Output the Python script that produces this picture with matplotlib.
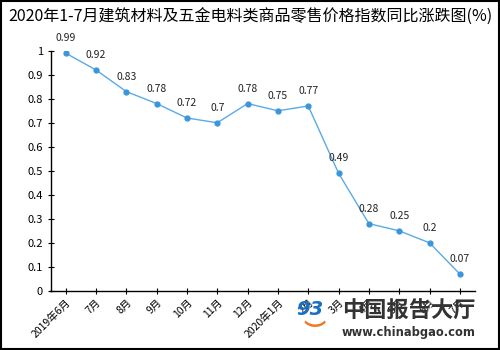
import matplotlib.pyplot as plt
from matplotlib.patches import Rectangle

plt.rcParams['font.family'] = ['Noto Sans CJK SC', 'DejaVu Sans']

months = ['2019年6月', '7月', '8月', '9月', '10月', '11月', '12月',
          '2020年1月', '2月', '3月', '4月', '5月', '6月', '7月']
values = [0.99, 0.92, 0.83, 0.78, 0.72, 0.70, 0.78,
          0.75, 0.77, 0.49, 0.28, 0.25, 0.20, 0.07]
yticks = [0, 0.1, 0.2, 0.3, 0.4, 0.5, 0.6, 0.7, 0.8, 0.9, 1]
ytick_labels = ['0', '0.1', '0.2', '0.3', '0.4', '0.5', '0.6', '0.7', '0.8', '0.9', '1']

fig = plt.figure(figsize=(5, 3.5), dpi=100)
ax = fig.add_axes([0.101, 0.169, 0.849, 0.686])

x = range(len(months))
ax.plot(x, values, color='#5aaae6', lw=1.0, marker='o', ms=3.5,
        mfc='#3a96dc', mec='#3a96dc', zorder=3)
for i, v in zip(x, values):
    ax.annotate('%g' % v, (i, v), xytext=(0, 7), textcoords='offset points',
                ha='center', va='bottom', fontsize=7.5, color='#222222')

ax.set_xlim(-0.5, len(months) - 0.5)
ax.set_ylim(0, 1)
ax.set_xticks(list(x))
ax.set_xticklabels(months, rotation=45, ha='right', va='top',
                   rotation_mode='anchor', fontsize=7.5)
ax.set_yticks(yticks)
ax.set_yticklabels(ytick_labels, fontsize=8)
ax.tick_params(direction='inout', length=5, width=0.8, color='black', pad=3)
ax.tick_params(axis='x', pad=2)

for side in ['top', 'right']:
    ax.spines[side].set_visible(False)
for side in ['left', 'bottom']:
    ax.spines[side].set_linewidth(1.0)

fig.text(0.5, 0.952, '2020年1-7月建筑材料及五金电料类商品零售价格指数同比涨跌图(%)',
         ha='center', va='center', fontsize=11.5, color='black')

# watermark
fig.text(0.952, 0.112, '中国报告大厅', ha='right', va='center',
         fontsize=16, fontweight='bold', color='#333333')
fig.text(0.952, 0.05, 'www.chinabgao.com', ha='right', va='center',
         fontsize=8.3, fontweight='bold', color='#333333', family='DejaVu Sans')
fig.text(0.62, 0.115, '93', ha='center', va='center', fontsize=14,
         fontweight='bold', fontstyle='italic', color='#1a6fc0', family='DejaVu Sans')
fig.text(0.63, 0.05, '︶', ha='center', va='center', fontsize=16,
         fontweight='bold', color='#f07820')

fig.add_artist(Rectangle((0.002, 0.003), 0.996, 0.994, transform=fig.transFigure,
                         fill=False, ec='black', lw=1.5))

fig.savefig('out.png', dpi=100)
